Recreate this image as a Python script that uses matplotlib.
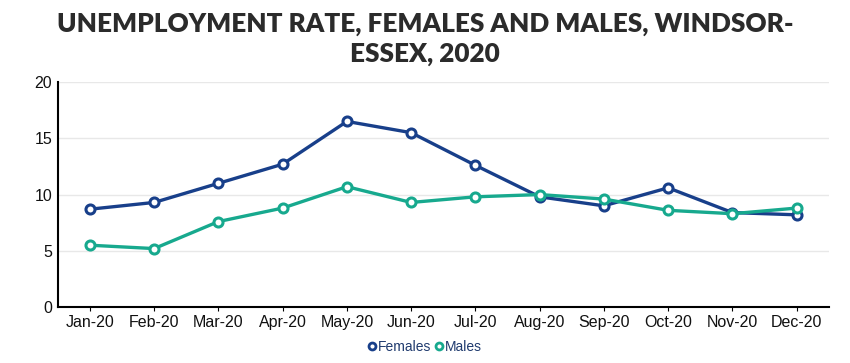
import matplotlib
matplotlib.use("Agg")
import matplotlib.pyplot as plt

months = ["Jan-20", "Feb-20", "Mar-20", "Apr-20", "May-20", "Jun-20",
          "Jul-20", "Aug-20", "Sep-20", "Oct-20", "Nov-20", "Dec-20"]
females = [8.7, 9.3, 11.0, 12.7, 16.5, 15.5, 12.6, 9.8, 9.0, 10.6, 8.4, 8.2]
males = [5.5, 5.2, 7.6, 8.8, 10.7, 9.3, 9.8, 10.0, 9.6, 8.6, 8.3, 8.8]
yticks = [0, 5, 10, 15, 20]

c_f = "#183f8a"
c_m = "#17a98e"

fig = plt.figure(figsize=(8.5, 3.63), dpi=100)
ax = fig.add_axes([0.068, 0.154, 0.907, 0.62])
x = list(range(len(months)))
ax.plot(x, females, color=c_f, lw=2.4, marker="o", ms=6.5, mfc="white",
        mec=c_f, mew=2.2, label="Females", zorder=3)
ax.plot(x, males, color=c_m, lw=2.4, marker="o", ms=6.5, mfc="white",
        mec=c_m, mew=2.2, label="Males", zorder=3)
ax.set_xlim(-0.5, 11.5)
ax.set_ylim(0, 20)
ax.set_yticks(yticks)
ax.set_xticks(x)
ax.set_xticklabels(months)
for lab in ax.get_xticklabels() + ax.get_yticklabels():
    lab.set_fontfamily("Liberation Sans")
    lab.set_fontsize(11.5)
    lab.set_color("#111111")
ax.tick_params(axis="y", length=0, pad=4)
ax.tick_params(axis="x", length=3, pad=3)
ax.grid(axis="y", color="#e8e8e8", lw=1)
ax.set_axisbelow(True)
for s in ["top", "right"]:
    ax.spines[s].set_visible(False)
for s in ["left", "bottom"]:
    ax.spines[s].set_color("black")
    ax.spines[s].set_linewidth(1.5)

fig.text(0.5, 0.968, "UNEMPLOYMENT RATE, FEMALES AND MALES, WINDSOR-\nESSEX, 2020",
         ha="center", va="top", fontsize=18.8, fontweight="heavy",
         family="Lato", color="#2b2b2b", linespacing=1.3)

leg = fig.legend(loc="lower center", bbox_to_anchor=(0.5, -0.01), ncol=2,
                 frameon=False, handlelength=0.6, handletextpad=0.1,
                 columnspacing=0.3, prop={"family": "Liberation Sans", "size": 10})
for h in leg.legend_handles:
    h.set_linestyle("none")
    h.set_markersize(5)
    h.set_markeredgewidth(2)
for t in leg.get_texts():
    t.set_color("#1f3a6e")

fig.savefig("out.png", dpi=100)
